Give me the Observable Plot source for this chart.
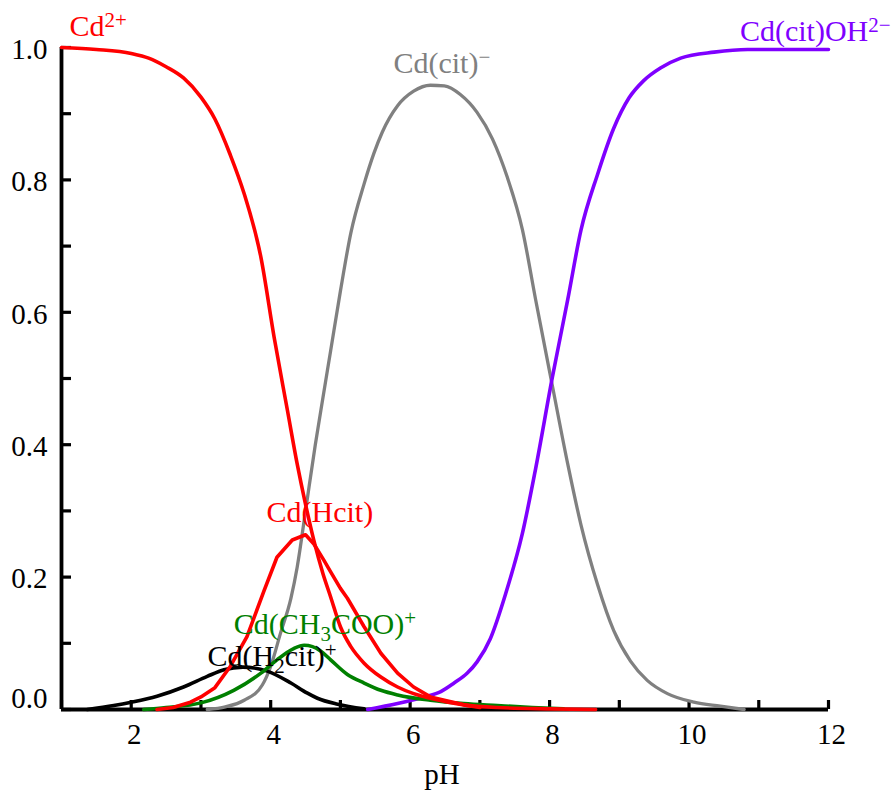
<!DOCTYPE html>
<html>
<head>
<meta charset="utf-8">
<script src="https://cdn.jsdelivr.net/npm/d3@7"></script>
<script src="https://cdn.jsdelivr.net/npm/@observablehq/plot@0.6"></script>
<style>
  html, body { margin: 0; padding: 0; background: #ffffff; }
  #chart svg { display: block; }
</style>
</head>
<body>
<div id="chart"></div>
<script>
// ---- Data: species fraction vs pH, as [pH, fraction] pairs ----
const cd2plus = [[1.0,1.0],[1.5,0.997],[2.0,0.991],[2.25,0.984],[2.5,0.971],[2.75,0.954],[3.0,0.925],[3.2,0.892],[3.42,0.838],[3.62,0.779],[3.86,0.683],[4.05,0.562],[4.24,0.452],[4.38,0.371],[4.5,0.31],[4.62,0.255],[4.75,0.205],[4.86,0.17],[5.0,0.125],[5.15,0.095],[5.34,0.07],[5.58,0.049],[5.82,0.034],[6.05,0.024],[6.29,0.017],[6.77,0.007],[7.25,0.003],[8.0,0.001],[8.66,0]];
const cdHcit = [[2.37,0],[2.6,0.003],[2.85,0.011],[3.0,0.019],[3.2,0.033],[3.42,0.065],[3.66,0.11],[3.9,0.178],[4.09,0.23],[4.31,0.256],[4.5,0.264],[4.62,0.25],[4.76,0.226],[4.86,0.208],[5.0,0.183],[5.1,0.168],[5.34,0.125],[5.58,0.085],[5.82,0.055],[6.05,0.034],[6.29,0.019],[6.77,0.007],[7.0,0.003]];
const cdAcetate = [[2.18,0],[2.5,0.003],[3.0,0.01],[3.47,0.029],[3.86,0.055],[4.09,0.075],[4.33,0.092],[4.48,0.097],[4.6,0.095],[4.72,0.088],[4.86,0.075],[5.1,0.053],[5.34,0.04],[5.58,0.029],[5.82,0.022],[6.29,0.014],[6.77,0.009],[7.25,0.006],[7.75,0.003],[8.2,0.001]];
const cdH2cit = [[1.37,0],[1.75,0.006],[2.0,0.011],[2.37,0.02],[2.75,0.034],[3.09,0.05],[3.33,0.06],[3.6,0.064],[3.95,0.058],[4.29,0.04],[4.52,0.025],[4.67,0.017],[4.96,0.008],[5.34,0.001]];
const cdCit = [[3.09,0],[3.35,0.004],[3.62,0.014],[3.88,0.037],[4.0,0.065],[4.14,0.115],[4.29,0.168],[4.38,0.215],[4.5,0.3],[4.64,0.4],[4.72,0.452],[4.86,0.542],[5.0,0.632],[5.15,0.72],[5.34,0.794],[5.48,0.84],[5.6,0.872],[5.82,0.912],[6.05,0.934],[6.29,0.943],[6.49,0.942],[6.72,0.929],[6.96,0.902],[7.18,0.862],[7.39,0.805],[7.61,0.725],[7.8,0.619],[8.04,0.489],[8.26,0.371],[8.45,0.279],[8.69,0.188],[8.92,0.119],[9.16,0.073],[9.4,0.044],[9.69,0.024],[10.07,0.011],[10.45,0.005],[10.79,0]];
const cdCitOH = [[5.39,0],[5.82,0.009],[6.2,0.019],[6.44,0.027],[6.63,0.04],[6.82,0.055],[6.96,0.072],[7.15,0.107],[7.37,0.175],[7.61,0.266],[7.8,0.364],[8.04,0.502],[8.26,0.619],[8.45,0.724],[8.69,0.809],[8.92,0.878],[9.14,0.924],[9.35,0.95],[9.59,0.969],[9.88,0.984],[10.36,0.993],[10.84,0.997],[12,0.997]];

// ---- Species labels (markup: ^{..} superscript, _{..} subscript) ----
const labelNames = ["Cd^{2+}", "Cd(cit)^{−}", "Cd(cit)OH^{2−}", "Cd(Hcit)", "Cd(CH_{3}COO)^{+}", "Cd(H_{2}cit)^{+}"];
const labelPH    = [1.115, 5.76, 10.73, 3.94, 3.47, 3.095];
const labelFrac  = [1.032, 0.976, 1.024, 0.297, 0.128, 0.080];

// ---- Axis ticks ----
const xTicks = [1,2,3,4,5,6,7,8,9,10,11,12];
const xTickLabels = [2,4,6,8,10,12];
const yTicks = [0,0.1,0.2,0.3,0.4,0.5,0.6,0.7,0.8,0.9,1.0];
const yTickLabels = [0,0.2,0.4,0.6,0.8,1.0];
const xLabel = "pH";

// ---- Styles ----
const colors = {red: "#ff0000", gray: "#808080", green: "#008000", black: "#000000", purple: "#7f00ff"};
const labelColors = [colors.red, colors.gray, colors.purple, colors.red, colors.green, colors.black];
const FONT = "'Liberation Serif', 'Times New Roman', Times, serif";

const toRows = (arr) => arr.map(([pH, f]) => ({pH, f}));
const labels = labelNames.map((name, i) => ({name, pH: labelPH[i], f: labelFrac[i], color: labelColors[i]}));

const W = 892, H = 802;
const mL = 61, mR = 64, mT = 47, mB = 93;
const innerW = W - mL - mR, innerH = H - mT - mB;
const lw = 3.6;

const chart = Plot.plot({
  width: W, height: H,
  marginLeft: mL, marginRight: mR, marginTop: mT, marginBottom: mB,
  x: {domain: [1, 12], axis: null},
  y: {domain: [0, 1], axis: null},
  style: {fontFamily: FONT, background: "#ffffff", color: "#000"},
  marks: [
    // axes lines
    Plot.ruleX([1], {x: d => d, stroke: "#000", strokeWidth: 3.8}),
    Plot.ruleY([0], {y: d => d, stroke: "#000", strokeWidth: 3.8}),
    // inward ticks
    Plot.tickX(xTicks, {x: d => d, stroke: "#000", strokeWidth: 3.2, insetTop: innerH - 9}),
    Plot.tickY(yTicks, {y: d => d, stroke: "#000", strokeWidth: 3.2, insetRight: innerW - 10}),
    // tick labels
    Plot.text(xTickLabels, {x: d => d, text: d => String(d), frameAnchor: "bottom", dy: 34, dx: 3, fontSize: 29, fill: "#000"}),
    Plot.text(yTickLabels.filter(d => d > 0), {y: d => d, text: d => d.toFixed(1), frameAnchor: "left", textAnchor: "end", dx: -14, dy: 2, fontSize: 29, fill: "#000"}),
    Plot.text(yTickLabels.filter(d => d === 0), {y: d => d, text: d => d.toFixed(1), frameAnchor: "left", textAnchor: "end", dx: -14, dy: -10.5, fontSize: 29, fill: "#000"}),
    Plot.text([xLabel], {text: d => d, frameAnchor: "bottom", dy: 74, dx: -3, fontSize: 29, fill: "#000"}),
    // curves
    Plot.line(toRows(cdCit), {x: "pH", y: "f", stroke: colors.gray, strokeWidth: 3.3, curve: "monotone-x"}),
    Plot.line(toRows(cdCitOH), {x: "pH", y: "f", stroke: colors.purple, strokeWidth: lw, curve: "monotone-x"}),
    Plot.line(toRows(cdH2cit), {x: "pH", y: "f", stroke: colors.black, strokeWidth: lw, curve: "monotone-x"}),
    Plot.line(toRows(cdAcetate), {x: "pH", y: "f", stroke: colors.green, strokeWidth: lw, curve: "monotone-x"}),
    Plot.line(toRows(cdHcit), {x: "pH", y: "f", stroke: colors.red, strokeWidth: lw, curve: "linear"}),
    Plot.line(toRows(cd2plus), {x: "pH", y: "f", stroke: colors.red, strokeWidth: lw, curve: "monotone-x"}),
    // species labels
    Plot.text(labels, {x: "pH", y: "f", text: "name", fill: "color", textAnchor: "start", fontSize: 30})
  ]
});

document.getElementById("chart").appendChild(chart);

// Rich text (super/subscripts) for species labels
const NS = "http://www.w3.org/2000/svg";
const SUP_SHIFT = 9, SUB_SHIFT = 7, SMALL = 21;
chart.querySelectorAll("text").forEach(t => {
  const s = t.textContent;
  if (!/[\^_]\{/.test(s)) return;
  const segs = [];
  const re = /(\^|_)\{([^}]*)\}/g;
  let last = 0, m;
  while ((m = re.exec(s)) !== null) {
    if (m.index > last) segs.push({type: "n", text: s.slice(last, m.index)});
    segs.push({type: m[1] === "^" ? "sup" : "sub", text: m[2]});
    last = re.lastIndex;
  }
  if (last < s.length) segs.push({type: "n", text: s.slice(last)});
  const inner = t.querySelector("tspan");
  const host = inner || t;
  while (host.firstChild) host.removeChild(host.firstChild);
  let cur = 0;
  segs.forEach(seg => {
    const ts = document.createElementNS(NS, "tspan");
    const target = seg.type === "sup" ? -SUP_SHIFT : seg.type === "sub" ? SUB_SHIFT : 0;
    if (target !== cur) ts.setAttribute("dy", String(target - cur));
    cur = target;
    if (seg.type !== "n") ts.setAttribute("font-size", String(SMALL));
    ts.textContent = seg.text;
    host.appendChild(ts);
  });
});
</script>
</body>
</html>
